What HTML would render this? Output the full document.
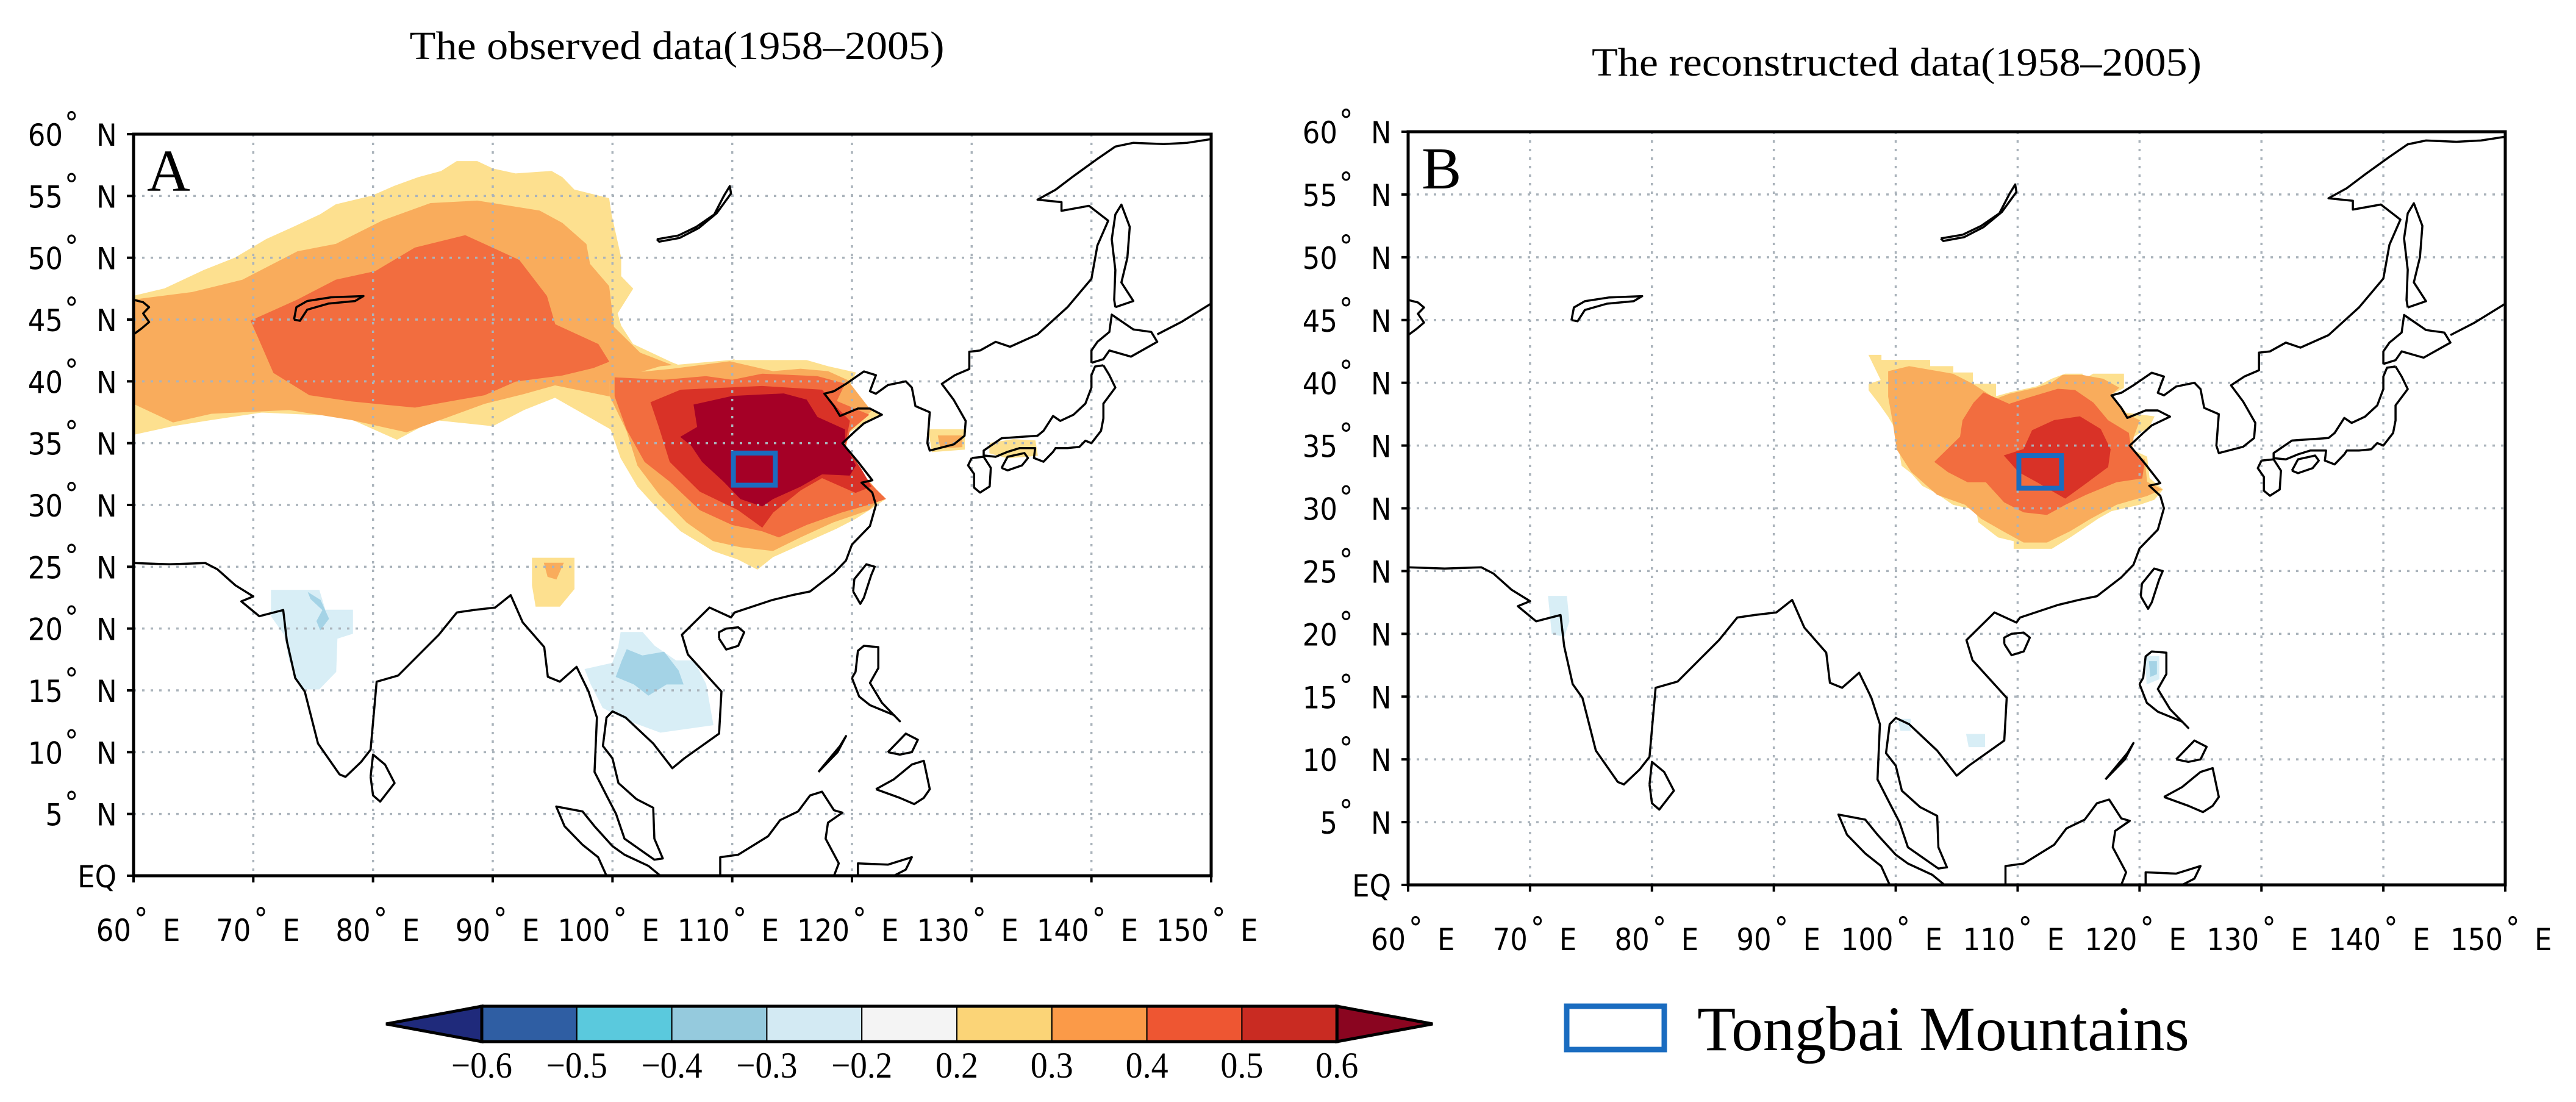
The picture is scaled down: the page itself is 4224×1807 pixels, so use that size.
<!DOCTYPE html>
<html><head><meta charset="utf-8">
<style>
html,body{margin:0;padding:0;background:#fff;}
svg{display:block;}
.ax{font-family:"DejaVu Sans Condensed","Liberation Sans Narrow","Liberation Sans",sans-serif;font-size:50px;fill:#000;}
.sr{font-family:"Liberation Serif",serif;fill:#000;}
</style></head>
<body>
<svg id="fig" width="4224" height="1807" viewBox="0 0 4224 1807" xmlns="http://www.w3.org/2000/svg">
<text class="sr" x="1110" y="97" font-size="66" text-anchor="middle" textLength="877" lengthAdjust="spacingAndGlyphs">The observed data(1958–2005)</text>
<text class="sr" x="3110" y="124" font-size="66" text-anchor="middle" textLength="1000" lengthAdjust="spacingAndGlyphs">The reconstructed data(1958–2005)</text>
<g id="panelA"></g>
<g id="panelB"></g>
<g id="cbar"></g>
<rect x="2569" y="1650" width="160" height="71" fill="none" stroke="#1a6cc0" stroke-width="9"/>
<text class="sr" x="2783" y="1722" font-size="104" textLength="807" lengthAdjust="spacingAndGlyphs">Tongbai Mountains</text>
</svg>
<script>
// ---- data ----
const lonTicks=[60,70,80,90,100,110,120,130,140,150];
const latTicks=[0,5,10,15,20,25,30,35,40,45,50,55,60];
const cbLevels=["−0.6","−0.5","−0.4","−0.3","−0.2","0.2","0.3","0.4","0.5","0.6"];
const cbColors=["#1f2a7b","#2f5ea3","#5ac9dd","#95cadd","#d3eaf3","#f4f4f4","#fbd477","#fb9a48","#ee5632","#c92b22","#8a0520"];
const tongbaiBox=[110.1,31.6,113.6,34.2];
// contour polygons [lon,lat], panel A (observed)
const obsYellowWest=[[60,46.9],[62.6,47.5],[65.9,49],[68.5,50],[71.1,51.5],[73.4,52.5],[75.6,53.5],[76.9,54.3],[79.9,55],[81.8,55.8],[83.8,56.5],[85.7,57],[87,57.8],[88.7,57.8],[90,57.2],[91.9,56.8],[94.9,57],[95.8,56.5],[96.8,55.5],[99.7,54.8],[99.9,53.5],[100.7,50],[100.7,48.5],[101.7,47.5],[100.4,45.5],[100.7,44.5],[101.7,43],[105,41.5],[107.6,40.5],[110.2,41.8],[104,39],[100.1,36],[95.2,38.7],[92.6,37.7],[90,36.4],[85.1,36.9],[82,35.3],[77.6,37.2],[70.7,37.5],[66.5,36.9],[63.3,36.4],[60,35.7]];
const obsOrangeWest=[[60,46.6],[64.9,47.2],[69.1,48.2],[73.7,50.5],[76.9,51.1],[80.8,53],[84.8,54.4],[88.7,54.6],[93.9,53.8],[95.8,52.8],[97.8,51.1],[98.1,49.5],[99.7,47.7],[100.1,44.4],[102.3,42.3],[106.3,40.8],[110,41.5],[105,39.5],[99.8,38.8],[95.2,39.7],[92.6,39],[89.3,38.2],[82.8,35.9],[78.2,36.9],[73,37.7],[66.5,37.4],[63.3,36.7],[60,38.2]];
const obsRedOrangeWest=[[69.8,44.9],[73.7,46.6],[76.9,48.2],[80.2,48.9],[83.5,50.8],[87.7,51.8],[89.3,51.1],[92.2,49.8],[94.5,46.9],[95.2,44.6],[98.8,43],[99.7,41.6],[98.4,41.1],[95.8,40.5],[91.9,40],[89.3,38.9],[83.5,37.9],[78.2,38.4],[74.7,38.9],[71.7,40.7],[70.4,43.6]];
const obsYellowEast=[[99.8,40],[104,41.2],[109.8,41.7],[116.2,41.7],[118,41.2],[120.3,40.7],[119.4,38.8],[122.3,37.3],[119.6,35.8],[119.4,34.5],[120.7,32.5],[122.8,30.5],[121.6,29.7],[120.3,28.9],[118.7,28.1],[115.7,26.8],[113.4,25.8],[112.1,24.8],[110.5,25.6],[108.4,26.3],[105.7,27.9],[103.9,29.6],[102.1,31.5],[100.7,33.8],[99.8,36.3]];
const obsOrangeEast=[[99.8,40.5],[105,41],[109.8,41.6],[113.4,40.8],[115.7,41],[118,40.8],[119.6,40.1],[121.6,37.6],[119.8,36],[119.4,34.5],[120.9,32.5],[122.5,30.7],[121.4,29.6],[118.4,28.6],[115.7,27.4],[113.4,26.3],[110.7,26.6],[108.4,27.1],[106.2,28.6],[103.9,30.9],[102.1,33.2],[101.2,36],[99.8,38.8]];
const obsRedOrangeEast=[[100.2,40.3],[104.3,40.1],[107.8,40.4],[110,40.1],[112.5,40.6],[117.1,40.4],[119.4,39.8],[118.7,38.4],[121.4,37.3],[119.8,36],[119.4,34.5],[121,32.2],[122.8,30.5],[121.6,30.1],[119.1,29.4],[116.2,28.4],[113.9,27.4],[112.5,27.9],[110,28.4],[107.3,29.6],[104.8,31.9],[102.7,33.5],[101.2,36.1],[100.2,38.8]];
const obsRedEast=[[103.2,38.3],[105.7,39.3],[112.5,39.6],[117.5,39.3],[118.7,37.9],[119.8,36.8],[119.4,34.8],[120.7,33],[121.6,31.5],[120.3,31],[117.5,32.2],[115.7,31.2],[113.4,29.4],[112.5,28.2],[110.5,29.6],[107.3,31.1],[104.8,33.5],[103.9,36.3]];
const obsDarkRedEast=[[106.8,38.1],[110,38.8],[114.3,39],[116.2,38.5],[117.1,37.1],[119.4,36.1],[119.4,34.8],[120.3,33.2],[119.8,32.4],[117.5,32.5],[115.7,31.5],[113.4,30.5],[112.5,29.9],[110.7,30.5],[109.3,31.9],[107.5,33.5],[106.6,34.8],[105.7,35.5],[107.1,36.3]];
const obsYellowTibet=[[93.3,25.7],[96.8,25.7],[96.8,23.2],[95.6,21.8],[93.6,21.8],[93.3,23.5]];
const obsOrangeTibet=[[94.3,25.3],[95.9,25.3],[95.3,24],[94.6,24.2]];
const obsYellowKorea=[[126.4,36.1],[129.4,36.1],[129.4,34.5],[126.7,34.3]];
const obsOrangeKorea=[[127.2,35.6],[129.2,35.6],[129.2,34.7],[127.4,34.6]];
const obsYellowJapan=[[131.5,35],[133.5,35.3],[135.3,35.2],[135.5,34],[133,33.8],[131.5,34.2]];
const obsPaleIndia=[[71.5,23.1],[75.5,23.1],[76,21.5],[78.3,21.5],[78.3,19.6],[77,19.2],[76.9,16.5],[75.5,15.1],[74,15.1],[73,17.5],[72.6,19.5],[71.5,21]];
const obsBlueIndia=[[74.6,22.9],[75.6,22.3],[76.3,20.8],[75.6,19.9],[75.3,20.6],[75.8,21.5],[74.8,22.4]];
const obsPaleIndochina=[[100.7,19.7],[102.5,19.7],[103.5,18.6],[105.3,17.4],[106.8,17.4],[107.8,15.5],[108.4,12.2],[104,11.6],[101.2,12.6],[99.2,13.6],[98.2,15.5],[97.7,16.7],[100,17.2],[100.5,18.5]];
const obsBlueIndochina=[[101.2,18.3],[102.5,17.8],[104.3,18.1],[105.5,16.6],[105.9,15.5],[104.5,15.5],[103,14.6],[101.8,15.5],[100.3,16.1],[100.8,17.4]];
// panel B (reconstructed)
const recYellow=[[97.8,42.2],[98.8,42.2],[98.8,41.8],[102.8,41.8],[102.8,41.3],[104.7,41.3],[104.7,40.8],[106.3,40.8],[106.3,39.9],[108.2,39.9],[108.2,38.9],[109.3,39.2],[111.6,39.7],[112.8,40.3],[113.9,40.7],[115.3,40.7],[115.3,40.2],[116.2,40.7],[118.7,40.7],[118.7,39.6],[117.7,39.1],[118.9,37.6],[121.2,37.3],[120.8,36.5],[119.5,35.7],[119.3,34.7],[120.6,34.1],[120.8,32.4],[121.9,31.5],[121.2,30.7],[120,30.3],[117.7,29.8],[116.6,29.2],[114.3,27.7],[112.8,26.8],[109.7,26.8],[109.7,27.4],[108.4,27.7],[106.8,28.9],[106.6,29.9],[104.7,30.3],[103.2,31.3],[102.2,31.8],[101.3,32.8],[100.5,33.4],[100,36.3],[99.4,37.3],[98.6,38.4],[97.8,39.4],[97.8,39.9],[98.8,40.2]];
const recOrange=[[99.4,40.9],[101.1,41.3],[104.7,40.7],[106.3,39.9],[108.2,38.7],[109.3,39.1],[111.6,39.6],[112.8,40],[113.7,40.6],[115.3,40.6],[117,40.3],[118.3,39.6],[117.7,39.1],[118.9,37.5],[120,37],[119.5,35.7],[119.3,34.2],[120.4,33.9],[120.6,32.1],[121.8,31.5],[120.6,31],[118.1,30.3],[116,29.2],[114.3,28.2],[112.4,27.3],[110.5,27.3],[108.8,28.2],[107,29.2],[105.7,30.3],[103.4,31.1],[101.3,32.9],[100.1,34.7],[99.8,36.7],[99.4,38.9]];
const recRedOrange=[[103.2,33.7],[105.3,35.7],[105.5,37],[106.4,38.4],[107.2,39.2],[109.3,38.3],[110.9,38.8],[113.3,39.5],[114.7,39.4],[116.2,38.4],[117.4,37],[119.1,36],[119.3,34.7],[120.4,33.7],[120.2,32.4],[118.1,32.1],[115.6,31.1],[113.9,30.3],[112.4,29.5],[110.5,29.7],[108.9,30.5],[107.4,32.1],[105.9,32.1],[104.3,32.9]];
const recRed=[[108.9,34.2],[110.5,34.7],[111.2,36.2],[113,37],[115.1,37.3],[116.8,36.3],[117.6,34.7],[117.4,33.3],[115.6,32],[113.9,30.8],[113,31.3],[111.6,32.1],[110.1,32.9]];
const recPaleIndia=[[71.5,23],[73,23],[73.2,21],[72.8,19.8],[71.8,20]];
const recPaleLuzon=[[120.5,18.2],[121.6,18.2],[121.6,16.4],[120.6,16]];
const recBlueLuzon=[[120.8,17.8],[121.4,17.8],[121.4,16.8],[120.9,16.6]];
const recPaleIndochina=[[100.2,13.2],[101.2,13.2],[101.2,12.3],[100.4,12.3]];
const recPaleVietnam=[[105.8,12],[107.3,12],[107.3,11],[106,11]];
// coastlines [lon,lat]
const coastMain=[[60,25.3],[63,25.2],[66,25.3],[67,24.8],[68.5,23.5],[70,22.6],[69,22.2],[70.5,21],[72.5,21.5],[72.8,19],[73.5,16],[74.3,14.9],[75.4,10.7],[77.2,8.2],[77.7,8],[79,9.2],[79.8,10.2],[80.3,15.7],[82.1,16.2],[85.5,19.5],[87,21.3],[88.4,21.5],[90.2,21.7],[91.5,22.7],[92.5,20.5],[94.3,18.5],[94.6,16.1],[95.6,15.7],[97,16.9],[98,14.9],[98.7,12.8],[98.5,8.4],[99.5,6.5],[100.3,5],[101,3],[103.5,1.3],[104.2,1.4],[103.5,3],[103.4,5.5],[102,6.2],[100.5,7.5],[100,9.5],[99.2,10.5],[99.5,12.8],[100,13.3],[101.1,12.8],[103.4,10.7],[105,8.7],[106,9.5],[108.9,11.5],[109.1,14.9],[106.3,17.9],[105.8,19.5],[108.1,21.7],[109.9,20.9],[110.2,21.3],[113.3,22.3],[115,22.7],[116.5,23],[118.5,24.5],[119.5,25.5],[120,26.8],[121.5,28.3],[122,30],[121.7,31],[120.8,31.8],[121.7,32],[120.5,33.5],[119.2,35],[120.3,36],[121,36.6],[122.5,37.3],[121.5,37.8],[120.5,37.8],[119,37.2],[118.5,38],[117.7,39],[118.5,39.2],[119.5,39.8],[121,40.8],[122,40.5],[121.5,39.2],[122,39],[123,39.7],[124.5,40],[125,39.5],[125.3,38],[126.5,37.5],[126.3,35],[126.5,34.4],[128.5,34.9],[129.4,35.6],[129.5,36.8],[128.5,38.5],[127.5,39.8],[128.6,40.5],[129.8,41],[129.8,42.4],[130.7,42.5],[132,43.2],[133.2,42.8],[135.5,43.8],[138,46],[140,48.3],[140.5,51],[141.4,53],[139.8,54.2],[137.5,53.8],[137.5,54.5],[135.5,54.7],[137,55.5],[138.5,56.6],[140.5,58],[142,59],[143.5,59.3],[146,59.2],[148,59.3],[150,59.6]];
const coastSakhalin=[[142,46],[143.5,46.5],[142.5,48],[143,50],[143.2,52.5],[142.5,54.3],[142,53.5],[141.7,51.5],[142,49],[141.9,46.6],[142,46]];
const coastHokkaido=[[140,41.5],[141,41.8],[141.5,42.5],[143.3,42],[145.5,43.2],[145,44],[143.5,44.2],[141.7,45.4],[141.5,44],[140.5,43.2],[140,42.5],[140,41.5]];
const coastHonshu=[[141,41.3],[141.5,40.5],[142,39.5],[141,38.2],[141,37],[140.8,36],[140,35],[139.5,35.2],[139,34.7],[138,34.6],[137,34.6],[136.8,34.3],[136,33.5],[135.2,33.8],[135.3,34.6],[134,34.6],[133,34.3],[132,33.9],[131,34],[131,34.4],[132.5,35.4],[134,35.5],[135.5,35.6],[136,36],[136.8,37.2],[137.4,36.8],[138.5,37.3],[139.5,38.2],[140,39.5],[140,40.5],[140.3,41.2],[141,41.3]];
const coastKyushu=[[130,33.8],[131,33.9],[131.6,33],[131.5,31.5],[130.7,31],[130.2,31.4],[130.2,32.5],[129.7,33.2],[130,33.8]];
const coastShikoku=[[132.5,33],[133,33.9],[134.4,34.2],[134.7,33.8],[134.2,33.2],[133,32.8],[132.5,33]];
const coastTaiwan=[[120.1,23],[120.7,22],[121,22.5],[121.6,24.3],[121.9,25],[121.2,25.2],[120.2,24],[120.1,23]];
const coastHainan=[[108.9,19.2],[109.5,18.3],[110.5,18.6],[111,19.7],[110.5,20.1],[109.5,20],[108.9,19.7],[108.9,19.2]];
const coastSriLanka=[[79.8,8],[80,6.5],[80.6,6],[81.8,7.5],[81,9],[80,9.8],[79.8,8]];
const coastLuzon=[[120,16],[120.6,14.5],[121.5,13.8],[123.5,13],[124,12.5],[122.5,14],[122,14.8],[121.5,15.6],[122.2,16.8],[122.2,18.5],[121,18.6],[120.5,18.2],[120.3,16.5],[120,16]];
const coastMindanao=[[122,7],[123.5,7.8],[124,8.2],[125,9],[126,9.3],[126.5,7],[126,6.3],[125.2,5.8],[124,6.3],[122,7]];
const coastVisayas=[[123,10],[124,11],[124.5,11.5],[125.5,11],[125,10],[124,9.8],[123,10]];
const coastPalawan=[[117.2,8.4],[118.8,10],[119.5,11.3],[119,10.5],[117.2,8.4]];
const coastBorneo=[[109,0],[109,1.5],[110.5,1.7],[113,3.2],[114,4.5],[115.5,5.2],[116.5,6.5],[117.5,6.8],[118.5,5.3],[119.2,5.1],[118,4.3],[117.8,3],[118.9,1],[118.5,0]];
const coastSumatra=[[104,0],[103,0.8],[101,1.7],[100,2.4],[98.5,4],[97.5,5.2],[95.3,5.6],[96,4],[97.5,2.5],[98.8,1.5],[99.5,0]];
const coastSulawesi=[[120.5,0],[120.5,1],[123,0.9],[125,1.5],[124.5,0.5],[123.5,0]];
const coastAral=[[60,46.6],[60.8,46.4],[61.3,46],[60.8,45.5],[61.3,44.8],[60.7,44.3],[60,43.8]];
const coastBalkhash=[[73.4,45],[73.6,46],[74.5,46.5],[76.5,46.8],[79.2,46.9],[78.5,46.5],[76.3,46.3],[74.5,45.8],[73.9,44.9],[73.4,45]];
const coastBaikal=[[103.7,51.5],[105.5,51.8],[107,52.5],[108.5,53.5],[109.3,55],[109.8,55.8],[109.9,55.2],[108.7,53.6],[107.2,52.4],[105.6,51.6],[103.9,51.3],[103.7,51.5]];
const coastKuril=[[145.5,43.8],[147.5,44.8],[150,46.3]];

const obsLayers=[["#fde08f",obsYellowWest],["#f9ac5c",obsOrangeWest],["#f26d3f",obsRedOrangeWest],["#fde08f",obsYellowEast],["#f9ac5c",obsOrangeEast],["#f26d3f",obsRedOrangeEast],["#d93227",obsRedEast],["#a50026",obsDarkRedEast],["#fde08f",obsYellowTibet],["#f9ac5c",obsOrangeTibet],["#fde08f",obsYellowKorea],["#f9ac5c",obsOrangeKorea],["#fde08f",obsYellowJapan],["#d8eef6",obsPaleIndia],["#a4d3e6",obsBlueIndia],["#d8eef6",obsPaleIndochina],["#a4d3e6",obsBlueIndochina]];
const recLayers=[["#fde08f",recYellow],["#f9ac5c",recOrange],["#f26d3f",recRedOrange],["#d93227",recRed],["#d8eef6",recPaleIndia],["#d8eef6",recPaleLuzon],["#a4d3e6",recBlueLuzon],["#d8eef6",recPaleIndochina],["#d8eef6",recPaleVietnam]];
const coastLines=[coastMain,coastSakhalin,coastHokkaido,coastHonshu,coastKyushu,coastShikoku,coastTaiwan,coastHainan,coastSriLanka,coastLuzon,coastMindanao,coastVisayas,coastPalawan,coastBorneo,coastSumatra,coastSulawesi,coastAral,coastBalkhash,coastBaikal,coastKuril];

// ---- drawing ----
const NS="http://www.w3.org/2000/svg";
function mk(tag,attrs,parent){const e=document.createElementNS(NS,tag);for(const k in attrs)e.setAttribute(k,attrs[k]);parent.appendChild(e);return e;}
function drawPanel(gid,P,layers,letter,clipId){
  const g=document.getElementById(gid);
  const X=lon=>P.x0+(lon-60)/90*(P.x1-P.x0);
  const Y=lat=>P.yb-lat/60*(P.yb-P.yt);
  const pts=arr=>arr.map(p=>X(p[0]).toFixed(1)+","+Y(p[1]).toFixed(1)).join(" ");
  const defs=mk("defs",{},g);
  const cp=mk("clipPath",{id:clipId},defs);
  mk("rect",{x:P.x0,y:P.yt,width:P.x1-P.x0,height:P.yb-P.yt},cp);
  const inner=mk("g",{"clip-path":"url(#"+clipId+")"},g);
  
  
  layers.forEach(L=>{
    const p=mk("polygon",{points:pts(L[1]),fill:L[0],stroke:L[0],"stroke-width":1},inner);
    
    
  });
  // gridlines
  lonTicks.slice(1,-1).forEach(l=>{
    const ln=mk("line",{x1:X(l),x2:X(l),y1:P.yt,y2:P.yb,stroke:"#aab3bb","stroke-width":3.5,"stroke-dasharray":"4 10"},inner);
    
    
  });
  latTicks.slice(1,-1).forEach(l=>{
    const ln=mk("line",{x1:P.x0,x2:P.x1,y1:Y(l),y2:Y(l),stroke:"#aab3bb","stroke-width":3.5,"stroke-dasharray":"4 10"},inner);
    
    
  });
  coastLines.forEach(c=>{
    const pl=mk("polyline",{points:pts(c),fill:"none",stroke:"#000","stroke-width":3.5,"stroke-linejoin":"round"},inner);
    
    
  });
  const b=tongbaiBox;
  const bx=mk("rect",{x:X(b[0]),y:Y(b[3]),width:X(b[2])-X(b[0]),height:Y(b[1])-Y(b[3]),fill:"none",stroke:"#1a6cc0","stroke-width":8},inner);
  
  
  const fr=mk("rect",{x:P.x0,y:P.yt,width:P.x1-P.x0,height:P.yb-P.yt,fill:"none",stroke:"#000","stroke-width":5},g);
  
  
  const lt=mk("text",{x:P.x0+22,y:P.yt+93,"font-size":98,class:"sr"},g);
  lt.textContent=letter;
  
  
  // x ticks & labels
  lonTicks.forEach(l=>{
    const x=X(l);
    const t=mk("line",{x1:x,x2:x,y1:P.yb,y2:P.yb+11,stroke:"#000","stroke-width":4},g);
    
    
    const lab=mk("text",{x:x-4,y:P.yb+107,"text-anchor":"end",class:"ax"},g);
    lab.textContent=String(l);
    
    
    const d=mk("text",{x:x+1,y:P.yb+88,"font-size":24,class:"ax"},g);
    d.textContent="°";
    
    
    const e=mk("text",{x:x+48,y:P.yb+107,class:"ax"},g);
    e.textContent="E";
    
    
  });
  latTicks.forEach(l=>{
    const y=Y(l);
    const t=mk("line",{x1:P.x0-11,x2:P.x0,y1:y,y2:y,stroke:"#000","stroke-width":4},g);
    
    
    if(l===0){
      const q=mk("text",{x:P.x0-28,y:y+19,"text-anchor":"end",class:"ax"},g);
      q.textContent="EQ";
      
      
      return;
    }
    const lab=mk("text",{x:P.x0-116,y:y+19,"text-anchor":"end",class:"ax"},g);
    lab.textContent=String(l);
    
    
    const d=mk("text",{x:P.x0-113,y:y-1,"font-size":24,class:"ax"},g);
    d.textContent="°";
    
    
    const n=mk("text",{x:P.x0-61,y:y+19,class:"ax"},g);
    n.textContent="N";
    
    
  });
}
drawPanel("panelA",{x0:219,x1:1986,yt:220,yb:1436},obsLayers,"A","clipA");
drawPanel("panelB",{x0:2309,x1:4108,yt:216,yb:1451},recLayers,"B","clipB");

// colorbar
(function(){
  const g=document.getElementById("cbar");
  const x0=790,cw=155.8,yt=1650,yb=1708,ym=1679,arrow=157;
  const n=cbColors.length-2;
  const la=mk("polygon",{points:`${x0},${yt} ${x0-arrow},${ym} ${x0},${yb}`,fill:cbColors[0],stroke:"#000","stroke-width":5},g);
  
  
  const xe=x0+n*cw;
  const ra=mk("polygon",{points:`${xe},${yt} ${xe+arrow},${ym} ${xe},${yb}`,fill:cbColors[cbColors.length-1],stroke:"#000","stroke-width":5},g);
  
  
  for(let i=0;i<n;i++){
    const r=mk("rect",{x:x0+i*cw,y:yt,width:cw,height:yb-yt,fill:cbColors[i+1],stroke:"#000","stroke-width":2},g);
    
    
  }
  const fr=mk("rect",{x:x0,y:yt,width:n*cw,height:yb-yt,fill:"none",stroke:"#000","stroke-width":5},g);
  
  
  cbLevels.forEach((s,i)=>{
    const t=mk("text",{x:x0+i*cw,y:1767,"font-size":60,"text-anchor":"middle",class:"sr",textLength:s.length>3?100:70,lengthAdjust:"spacingAndGlyphs"},g);
    t.textContent=s;
    
    
  });
})();
</script>
</body></html>
